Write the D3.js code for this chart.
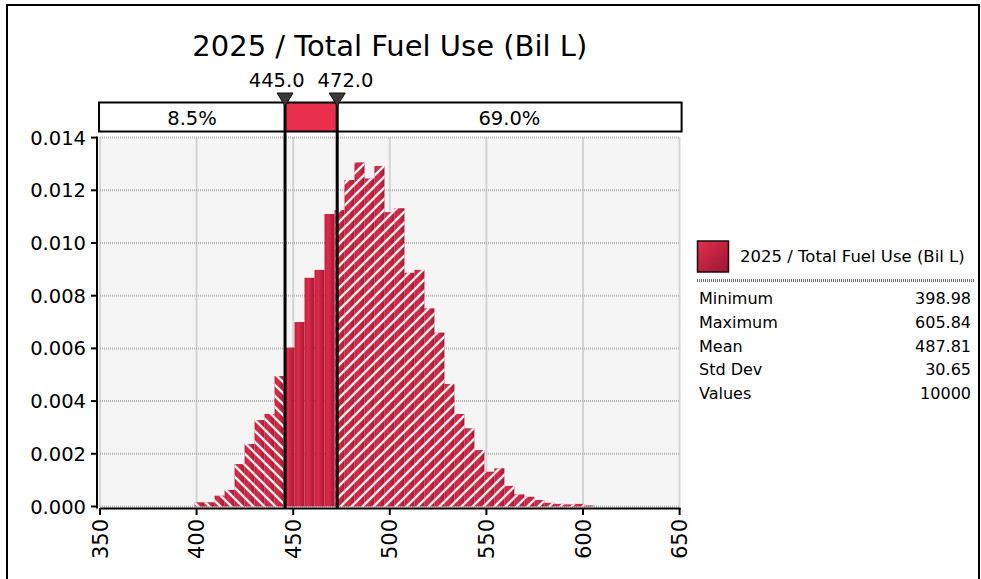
<!DOCTYPE html>
<html>
<head>
<meta charset="utf-8">
<script src="https://cdn.jsdelivr.net/npm/d3@7"></script>
<style>
  html, body { margin: 0; padding: 0; background: #fff; }
  svg { display: block; font-family: "DejaVu Sans", sans-serif; }
</style>
</head>
<body>
<svg id="chart" width="981" height="579"></svg>
<script>
// ---------------- DATA ----------------
const chartTitle = "2025 / Total Fuel Use (Bil L)";
const binMin = 398.98;
const binMax = 605.84;
// density per bin (40 equal bins between min and max)
const densities = [
  0.00016, 0.00016, 0.00041, 0.00063, 0.00161, 0.00237, 0.00328, 0.00351, 0.00495, 0.00603,
  0.00700, 0.00868, 0.00898, 0.01110, 0.01125, 0.01239, 0.01306, 0.01245, 0.01292, 0.01117,
  0.01132, 0.00887, 0.00898, 0.00752, 0.00660, 0.00465, 0.00351, 0.00297, 0.00214, 0.00132,
  0.00145, 0.00078, 0.00046, 0.00037, 0.00025, 0.00014, 0.00010, 0.00008, 0.00010, 0.00004
];
const delimiters = [445.0, 472.0];
const delimiterLabels = ["445.0", "472.0"];
const regionPercents = ["8.5%", "", "69.0%"];
const xTicks = [350, 400, 450, 500, 550, 600, 650];
const yTicks = [0, 0.002, 0.004, 0.006, 0.008, 0.010, 0.012, 0.014];
const statLabels = ["Minimum", "Maximum", "Mean", "Std Dev", "Values"];
const statValues = ["398.98", "605.84", "487.81", "30.65", "10000"];

// ---------------- LAYOUT ----------------
const svg = d3.select("#chart");
const x = d3.scaleLinear().domain([350, 650]).range([100, 679.6]);
const y = d3.scaleLinear().domain([0, 0.014]).range([506.5, 137.6]);
const plotTop = 137.6, plotBottom = 506.5;

const defs = svg.append("defs");
const barGrad = defs.append("linearGradient").attr("id", "barGrad")
  .attr("x1", "0").attr("y1", "0").attr("x2", "1").attr("y2", "0");
barGrad.append("stop").attr("offset", "0%").attr("stop-color", "#c21d3b");
barGrad.append("stop").attr("offset", "35%").attr("stop-color", "#dc2b4b");
barGrad.append("stop").attr("offset", "100%").attr("stop-color", "#a8172f");

const swGrad = defs.append("linearGradient").attr("id", "swGrad")
  .attr("x1", "0").attr("y1", "0").attr("x2", "1").attr("y2", "1");
swGrad.append("stop").attr("offset", "0%").attr("stop-color", "#e0304f");
swGrad.append("stop").attr("offset", "100%").attr("stop-color", "#9c1530");

function hatch(id, dir) {
  const p = defs.append("pattern").attr("id", id)
    .attr("patternUnits", "userSpaceOnUse").attr("width", 11).attr("height", 11);
  const d = dir > 0
    ? "M-2,2 L2,-2 M0,11 L11,0 M9,13 L13,9"
    : "M-2,9 L2,13 M0,0 L11,11 M9,-2 L13,2";
  p.append("path").attr("d", d).attr("stroke", "#ffffff").attr("stroke-width", 2.3)
    .attr("stroke-opacity", 0.95);
}
hatch("hatchLeft", -1);
hatch("hatchRight", 1);

// outer frame
svg.append("rect").attr("x", 7).attr("y", 5).attr("width", 972).attr("height", 600)
  .attr("fill", "none").attr("stroke", "#000").attr("stroke-width", 2);

// title
svg.append("text").attr("x", (x.range()[0] + x.range()[1]) / 2).attr("y", 56)
  .attr("text-anchor", "middle").attr("font-size", 29).attr("fill", "#000")
  .text(chartTitle);

// plot background
svg.append("rect").attr("x", x(350)).attr("y", plotTop)
  .attr("width", x(650) - x(350)).attr("height", plotBottom - plotTop)
  .attr("fill", "#f5f5f5");

// grid
const grid = svg.append("g").attr("stroke", "#b4b4b4").attr("stroke-width", 2)
  .attr("stroke-dasharray", "1,1");
grid.selectAll("line.vx").data(xTicks).join("line")
  .attr("x1", d => x(d)).attr("x2", d => x(d)).attr("y1", plotTop).attr("y2", plotBottom);
grid.selectAll("line.hy").data(yTicks).join("line")
  .attr("x1", x(350)).attr("x2", x(650)).attr("y1", d => y(d)).attr("y2", d => y(d));

// bars split by delimiter regions
const nb = densities.length;
const bw = (binMax - binMin) / nb;
const segs = [];
densities.forEach((v, i) => {
  const a = binMin + i * bw, b = a + bw;
  const cuts = [a, ...delimiters.filter(c => c > a && c < b), b];
  for (let k = 0; k < cuts.length - 1; k++) {
    const s = cuts[k], e = cuts[k + 1], m = (s + e) / 2;
    const region = m < delimiters[0] ? 0 : (m < delimiters[1] ? 1 : 2);
    segs.push({ s, e, v, region });
  }
});
const bars = svg.append("g");
bars.selectAll("rect.bar").data(segs).join("rect").attr("class", "bar")
  .attr("x", d => x(d.s)).attr("width", d => x(d.e) - x(d.s))
  .attr("y", d => y(d.v)).attr("height", d => y(0) - y(d.v))
  .attr("fill", "url(#barGrad)");
bars.selectAll("rect.hatch").data(segs.filter(d => d.region !== 1)).join("rect")
  .attr("class", "hatch")
  .attr("x", d => x(d.s)).attr("width", d => x(d.e) - x(d.s))
  .attr("y", d => y(d.v)).attr("height", d => y(0) - y(d.v))
  .attr("fill", d => d.region === 0 ? "url(#hatchLeft)" : "url(#hatchRight)");

// axes
const yAxis = svg.append("g");
yAxis.append("line").attr("x1", 97).attr("x2", 97).attr("y1", plotTop - 1).attr("y2", plotBottom + 2)
  .attr("stroke", "#000").attr("stroke-width", 2);
yAxis.selectAll("line.t").data(yTicks).join("line").attr("class", "t")
  .attr("x1", 91).attr("x2", 97).attr("y1", d => y(d)).attr("y2", d => y(d))
  .attr("stroke", "#000").attr("stroke-width", 2);
yAxis.selectAll("text").data(yTicks).join("text")
  .attr("x", 86).attr("y", d => y(d)).attr("dy", "0.36em")
  .attr("text-anchor", "end").attr("font-size", 19.5).attr("fill", "#000")
  .text(d => d3.format(".3f")(d));

const xAxis = svg.append("g");
xAxis.append("line").attr("x1", x(350)).attr("x2", x(650) + 1).attr("y1", 508.5).attr("y2", 508.5)
  .attr("stroke", "#000").attr("stroke-width", 2);
xAxis.selectAll("line.t").data(xTicks).join("line").attr("class", "t")
  .attr("x1", d => x(d)).attr("x2", d => x(d)).attr("y1", 508).attr("y2", 515)
  .attr("stroke", "#000").attr("stroke-width", 2);
xAxis.selectAll("text").data(xTicks).join("text")
  .attr("transform", d => `translate(${x(d)},519) rotate(-90)`)
  .attr("dy", "0.36em").attr("text-anchor", "end").attr("font-size", 21).attr("fill", "#000")
  .text(d => d);

// delimiter box
const boxTop = 102.5, boxBottom = 131.5;
svg.append("rect").attr("x", x(delimiters[0]) + 1.5).attr("y", boxTop)
  .attr("width", x(delimiters[1]) - x(delimiters[0])).attr("height", boxBottom - boxTop)
  .attr("fill", "#e8304c");
svg.append("rect").attr("x", x(350) - 1).attr("y", boxTop)
  .attr("width", x(650) - x(350) + 3).attr("height", boxBottom - boxTop)
  .attr("fill", "none").attr("stroke", "#000").attr("stroke-width", 2);
const segEdges = [x(350) - 1, x(delimiters[0]) + 1.5, x(delimiters[1]) + 1.5, x(650) + 2];
regionPercents.forEach((t, i) => {
  if (!t) return;
  svg.append("text").attr("x", (segEdges[i] + segEdges[i + 1]) / 2).attr("y", 125)
    .attr("text-anchor", "middle").attr("font-size", 19.5).attr("fill", "#000").text(t);
});

// delimiter lines + markers
const dl = svg.append("g");
dl.selectAll("line").data(delimiters).join("line")
  .attr("x1", d => x(d) + 1.5).attr("x2", d => x(d) + 1.5).attr("y1", 95).attr("y2", 508)
  .attr("stroke", "#000").attr("stroke-width", 3);
dl.selectAll("path").data(delimiters).join("path")
  .attr("d", d => { const c = x(d) + 1.5; return `M${c - 8},93 L${c + 8},93 L${c},106 Z`; })
  .attr("fill", "#3a3a3a").attr("stroke", "#111").attr("stroke-width", 1);
const mid = (x(delimiters[0]) + x(delimiters[1])) / 2 + 1.5;
const labelsG = svg.append("g");
const lt = labelsG.selectAll("text").data(delimiterLabels).join("text")
  .attr("y", 87).attr("font-size", 19.5).attr("fill", "#000").attr("text-anchor", "middle")
  .text(d => d);
lt.each(function(d, i) {
  const w = this.getComputedTextLength();
  const c1 = x(delimiters[i]) + 1.5;
  let cx = c1;
  const gap = x(delimiters[1]) - x(delimiters[0]);
  if (gap < w + 13) cx = i === 0 ? mid - (w / 2 + 6.5) : mid + (w / 2 + 6.5);
  d3.select(this).attr("x", cx);
});

// legend
const lg = svg.append("g");
lg.append("rect").attr("x", 697.5).attr("y", 241).attr("width", 31).attr("height", 31)
  .attr("fill", "url(#swGrad)").attr("stroke", "#1a0a0c").attr("stroke-width", 1.5);
lg.append("text").attr("x", 740).attr("y", 262).attr("font-size", 16.5).attr("fill", "#000")
  .text(chartTitle);
lg.append("line").attr("x1", 697).attr("x2", 975).attr("y1", 280.5).attr("y2", 280.5)
  .attr("stroke", "#777").attr("stroke-width", 3).attr("stroke-dasharray", "1,1");
lg.selectAll("text.sl").data(statLabels).join("text").attr("class", "sl")
  .attr("x", 699).attr("y", (d, i) => 304 + i * 23.8).attr("font-size", 16).attr("fill", "#000")
  .text(d => d);
lg.selectAll("text.sv").data(statValues).join("text").attr("class", "sv")
  .attr("x", 971).attr("y", (d, i) => 304 + i * 23.8).attr("font-size", 16)
  .attr("text-anchor", "end").attr("fill", "#000").text(d => d);
</script>
</body>
</html>
